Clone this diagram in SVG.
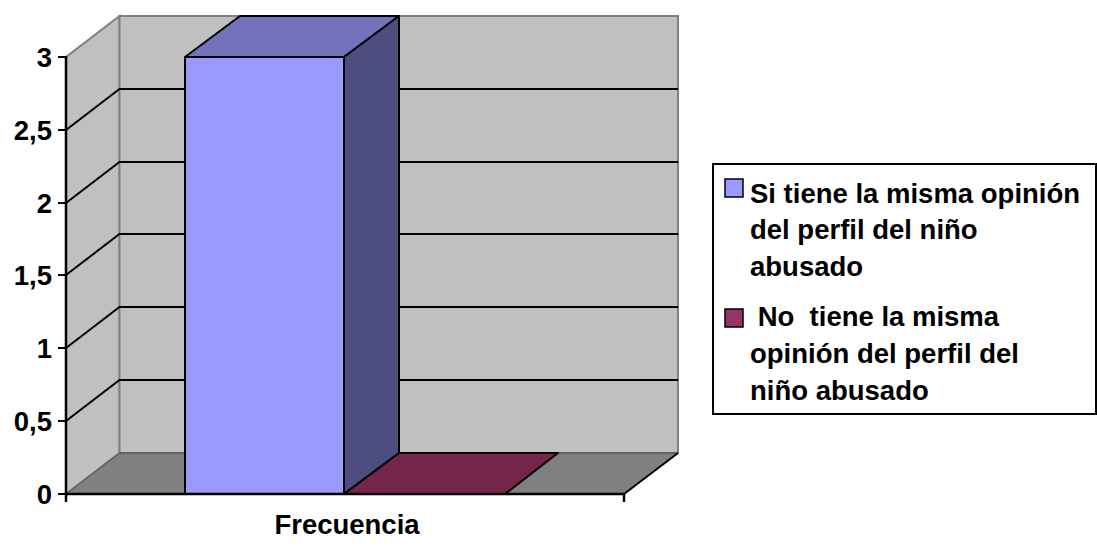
<svg xmlns="http://www.w3.org/2000/svg" width="1097" height="546" viewBox="0 0 1097 546">
<style>
.t{font-family:"Liberation Sans",Arial,sans-serif;font-weight:bold;fill:#000}
.ax{font-size:27.5px}
.lg{font-size:27.5px}
.grid{stroke:#000;stroke-width:2;fill:none}
.edge{stroke:#000;stroke-width:2;stroke-linejoin:round}
</style>
<rect width="1097" height="546" fill="#fff"/>
<g id="walls">
<polygon points="66,494 66,57 119.5,16 119.5,453" fill="#c0c0c0" stroke="#808080" stroke-width="2"/>
<rect x="119.5" y="16" width="558.5" height="437" fill="#c0c0c0" stroke="#808080" stroke-width="2"/>
<polygon points="66,494 119.5,453 678,453 624,494" fill="#808080"/>
<line x1="119.5" y1="453" x2="678" y2="453" stroke="#606060" stroke-width="2"/>
<line x1="66" y1="494" x2="119.5" y2="453" stroke="#606060" stroke-width="1.5"/>
</g>
<g id="gridlines">
<polyline class="grid" points="66,421 119.5,380 678,380"/>
<polyline class="grid" points="66,348 119.5,307 678,307"/>
<polyline class="grid" points="66,275 119.5,234 678,234"/>
<polyline class="grid" points="66,203 119.5,162 678,162"/>
<polyline class="grid" points="66,130 119.5,89 678,89"/>
</g>
<g id="bar-si">
<polygon class="edge" points="185,57 240,16 399,16 344,57" fill="#7373bd"/>
<polygon class="edge" points="344,57 399,16 399,453 344,494" fill="#4d4d80"/>
<rect class="edge" x="185" y="57" width="159" height="437" fill="#9999ff"/>
</g>
<g id="bar-no">
<polygon class="edge" points="344,494 399,453 558,453 505,494" fill="#732649"/>
</g>
<g id="axes">
<line x1="624" y1="494" x2="678" y2="453" stroke="#000" stroke-width="2"/>
<line x1="66" y1="56" x2="66" y2="502" stroke="#000" stroke-width="2.5"/>
<line x1="65" y1="494" x2="624" y2="494" stroke="#000" stroke-width="2.5"/>
<line x1="624" y1="494" x2="624" y2="502" stroke="#000" stroke-width="2.5"/>
<g stroke="#000" stroke-width="2">
<line x1="58" y1="57" x2="66" y2="57"/>
<line x1="58" y1="130" x2="66" y2="130"/>
<line x1="58" y1="203" x2="66" y2="203"/>
<line x1="58" y1="275" x2="66" y2="275"/>
<line x1="58" y1="348" x2="66" y2="348"/>
<line x1="58" y1="421" x2="66" y2="421"/>
<line x1="58" y1="494" x2="66" y2="494"/>
</g>
</g>
<g id="y-labels" class="t ax" text-anchor="end">
<text x="52" y="67">3</text>
<text x="52" y="140">2,5</text>
<text x="52" y="213">2</text>
<text x="52" y="285">1,5</text>
<text x="52" y="358">1</text>
<text x="52" y="431">0,5</text>
<text x="52" y="504">0</text>
</g>
<g id="x-label"><text class="t ax" x="347" y="534" text-anchor="middle">Frecuencia</text></g>
<g id="legend">
<rect x="713" y="164" width="383" height="250" fill="#fff" stroke="#000" stroke-width="2"/>
<rect x="725" y="179" width="18" height="18" fill="#9999ff" stroke="#000" stroke-width="1.5"/>
<rect x="725" y="309" width="18" height="18" fill="#993366" stroke="#000" stroke-width="1.5"/>
<g class="t lg">
<text x="750" y="203">Si tiene la misma opinión</text>
<text x="750" y="239">del perfil del niño</text>
<text x="750" y="276">abusado</text>
<text x="750" y="326" xml:space="preserve"> No  tiene la misma</text>
<text x="750" y="363">opinión del perfil del</text>
<text x="750" y="400">niño abusado</text>
</g>
</g>
</svg>
